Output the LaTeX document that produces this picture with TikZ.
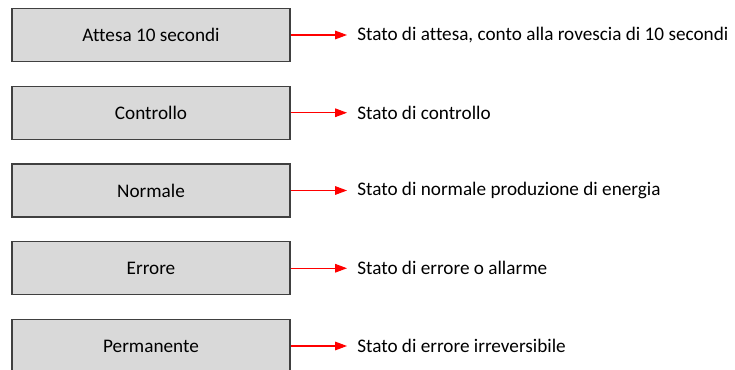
\documentclass[tikz,border=0pt]{standalone}
\usepackage{fontspec}
\setmainfont{Carlito}[Ligatures=NoCommon]
\usetikzlibrary{arrows.meta}
\definecolor{boxgray}{HTML}{D9D9D9}
\definecolor{boxline}{HTML}{404040}
\begin{document}
\begin{tikzpicture}[x=0.75pt,y=-0.75pt,
  statebox/.style={draw=boxline,fill=boxgray,line width=1pt,minimum width=208.5pt,minimum height=39.75pt,inner sep=0pt,font=\fontsize{14.4}{16}\selectfont},
  desc/.style={anchor=west,inner sep=0pt,font=\fontsize{14.4}{16}\selectfont},
  redarrow/.style={red,line width=0.8pt,-{Triangle[length=9pt,width=6.5pt]}}]
\useasboundingbox (0,0) rectangle (735,370);
\node[statebox] (attesa) at (151,35) {Attesa 10 secondi};
\node[statebox] (controllo) at (151,112.75) {Controllo};
\node[statebox] (normale) at (151,190.5) {Normale};
\node[statebox] (errore) at (151,268.25) {Errore};
\node[statebox] (permanente) at (151,346) {Permanente};
\node[desc] (dattesa) at (357,35) {Stato di attesa, conto alla rovescia di 10 secondi};
\node[desc] (dcontrollo) at (357,112.75) {Stato di controllo};
\node[desc] (dnormale) at (357,190.5) {Stato di normale produzione di energia};
\node[desc] (derrore) at (357,268.25) {Stato di errore o allarme};
\node[desc] (dpermanente) at (357,346) {Stato di errore irreversibile};
\draw[redarrow] (attesa.east) -- ([xshift=-7.5pt]dattesa.west);
\draw[redarrow] (controllo.east) -- ([xshift=-7.5pt]dcontrollo.west);
\draw[redarrow] (normale.east) -- ([xshift=-7.5pt]dnormale.west);
\draw[redarrow] (errore.east) -- ([xshift=-7.5pt]derrore.west);
\draw[redarrow] (permanente.east) -- ([xshift=-7.5pt]dpermanente.west);
\end{tikzpicture}
\end{document}
